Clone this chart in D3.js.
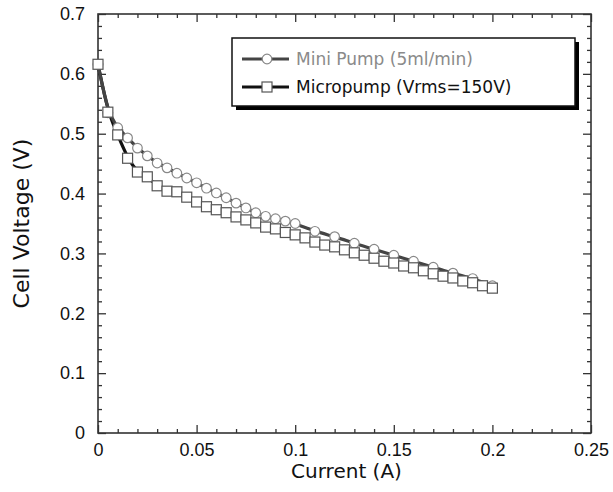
<!DOCTYPE html>
<html>
<head>
<meta charset="utf-8">
<script src="https://cdn.jsdelivr.net/npm/d3@7"></script>
<style>
  html, body { margin: 0; padding: 0; background: #fff; }
  svg { display: block; font-family: "DejaVu Sans", "Liberation Sans", Arial, sans-serif; }
</style>
</head>
<body>
<svg id="chart" width="613" height="492"></svg>
<script>
// ---- data ----
const miniCurrent = [0, 0.005, 0.01, 0.015, 0.02, 0.025, 0.03, 0.035, 0.04, 0.045, 0.05, 0.055, 0.06, 0.065, 0.07, 0.075, 0.08, 0.085, 0.09, 0.095, 0.1, 0.11, 0.12, 0.13, 0.14, 0.15, 0.16, 0.17, 0.18, 0.19, 0.2];
const miniVoltage = [0.616, 0.535, 0.510, 0.493, 0.476, 0.463, 0.451, 0.443, 0.434, 0.426, 0.418, 0.409, 0.401, 0.393, 0.384, 0.376, 0.368, 0.362, 0.358, 0.354, 0.350, 0.337, 0.328, 0.317, 0.307, 0.297, 0.287, 0.277, 0.267, 0.258, 0.246];

const microCurrent = [0, 0.005, 0.01, 0.015, 0.02, 0.025, 0.03, 0.035, 0.04, 0.045, 0.05, 0.055, 0.06, 0.065, 0.07, 0.075, 0.08, 0.085, 0.09, 0.095, 0.1, 0.105, 0.11, 0.115, 0.12, 0.125, 0.13, 0.135, 0.14, 0.145, 0.15, 0.155, 0.16, 0.165, 0.17, 0.175, 0.18, 0.185, 0.19, 0.195, 0.2];
const microVoltage = [0.616, 0.536, 0.498, 0.459, 0.436, 0.428, 0.413, 0.404, 0.403, 0.394, 0.386, 0.378, 0.373, 0.368, 0.361, 0.356, 0.351, 0.344, 0.341, 0.335, 0.331, 0.326, 0.319, 0.314, 0.311, 0.306, 0.301, 0.297, 0.292, 0.287, 0.284, 0.279, 0.276, 0.271, 0.266, 0.262, 0.259, 0.254, 0.251, 0.246, 0.242];

const xTicks = [0, 0.05, 0.1, 0.15, 0.2, 0.25];
const xTickLabels = ["0", "0.05", "0.1", "0.15", "0.2", "0.25"];
const yTicks = [0, 0.1, 0.2, 0.3, 0.4, 0.5, 0.6, 0.7];
const yTickLabels = ["0", "0.1", "0.2", "0.3", "0.4", "0.5", "0.6", "0.7"];
const seriesNames = ["Mini Pump (5ml/min)", "Micropump (Vrms=150V)"];

// ---- layout ----
const L = 98, R = 591, T = 14, B = 433;
const svg = d3.select("#chart");
const x = d3.scaleLinear().domain([0, 0.25]).range([L, R]);
const y = d3.scaleLinear().domain([0, 0.7]).range([B, T]);

const xMinor = d3.range(0, 0.2501, 0.01).map(v => +v.toFixed(3)).filter(v => !xTicks.some(t => Math.abs(t - v) < 1e-9));
const yMinor = d3.range(0, 0.7001, 0.02).map(v => +v.toFixed(3)).filter(v => !yTicks.some(t => Math.abs(t - v) < 1e-9));

const axisColor = "#333";
function styleAxis(g) {
  g.select(".domain").remove();
  g.selectAll(".tick line").attr("stroke", axisColor).attr("stroke-width", 1.3);
  g.selectAll(".tick text").attr("fill", "#111").style("font-size", "18px");
}

// bottom
svg.append("g").attr("transform", `translate(0,${B})`)
  .call(d3.axisBottom(x).tickValues(xTicks).tickFormat((d, i) => xTickLabels[i]).tickSizeInner(-8).tickSizeOuter(0).tickPadding(10))
  .call(styleAxis);
svg.append("g").attr("transform", `translate(0,${B})`)
  .call(d3.axisBottom(x).tickValues(xMinor).tickFormat("").tickSizeInner(-4).tickSizeOuter(0))
  .call(styleAxis);
// top
svg.append("g").attr("transform", `translate(0,${T})`)
  .call(d3.axisTop(x).tickValues(xTicks).tickFormat("").tickSizeInner(-8).tickSizeOuter(0))
  .call(styleAxis);
svg.append("g").attr("transform", `translate(0,${T})`)
  .call(d3.axisTop(x).tickValues(xMinor).tickFormat("").tickSizeInner(-4).tickSizeOuter(0))
  .call(styleAxis);
// left
svg.append("g").attr("transform", `translate(${L},0)`)
  .call(d3.axisLeft(y).tickValues(yTicks).tickFormat((d, i) => yTickLabels[i]).tickSizeInner(-8).tickSizeOuter(0).tickPadding(13))
  .call(styleAxis);
svg.append("g").attr("transform", `translate(${L},0)`)
  .call(d3.axisLeft(y).tickValues(yMinor).tickFormat("").tickSizeInner(-4).tickSizeOuter(0))
  .call(styleAxis);
// right
svg.append("g").attr("transform", `translate(${R},0)`)
  .call(d3.axisRight(y).tickValues(yTicks).tickFormat("").tickSizeInner(-8).tickSizeOuter(0))
  .call(styleAxis);
svg.append("g").attr("transform", `translate(${R},0)`)
  .call(d3.axisRight(y).tickValues(yMinor).tickFormat("").tickSizeInner(-4).tickSizeOuter(0))
  .call(styleAxis);

// frame
svg.append("rect").attr("x", L).attr("y", T).attr("width", R - L).attr("height", B - T)
  .attr("fill", "none").attr("stroke", axisColor).attr("stroke-width", 1.6);

// titles
svg.append("text").attr("x", (L + R) / 2 + 2).attr("y", 478).attr("text-anchor", "middle")
  .style("font-size", "20px").attr("fill", "#111").text("Current (A)");
svg.append("text").attr("transform", `translate(29,${(T + B) / 2}) rotate(-90)`).attr("text-anchor", "middle")
  .style("font-size", "22px").attr("fill", "#111").text("Cell Voltage (V)");

// series
const miniData = miniCurrent.map((c, i) => [c, miniVoltage[i]]);
const microData = microCurrent.map((c, i) => [c, microVoltage[i]]);
const line = d3.line().x(d => x(d[0])).y(d => y(d[1])).curve(d3.curveBasis);

svg.append("path").datum(microData).attr("d", line).attr("fill", "none").attr("stroke", "#111").attr("stroke-width", 3.2);
svg.append("path").datum(miniData).attr("d", line).attr("fill", "none").attr("stroke", "#444").attr("stroke-width", 3.2);

svg.append("g").selectAll("circle").data(miniData).join("circle")
  .attr("cx", d => x(d[0])).attr("cy", d => y(d[1])).attr("r", 4.8)
  .attr("fill", "#fff").attr("stroke", "#888").attr("stroke-width", 1.2);
const sq = 10;
svg.append("g").selectAll("rect").data(microData).join("rect")
  .attr("x", d => x(d[0]) - sq / 2).attr("y", d => y(d[1]) - sq / 2).attr("width", sq).attr("height", sq)
  .attr("fill", "#fff").attr("stroke", "#555").attr("stroke-width", 1.2);

// legend
const lg = svg.append("g");
lg.append("rect").attr("x", 236).attr("y", 42).attr("width", 343).attr("height", 68).attr("fill", "#000");
lg.append("rect").attr("x", 232).attr("y", 38).attr("width", 343).attr("height", 68)
  .attr("fill", "#fff").attr("stroke", "#111").attr("stroke-width", 1.5);
const rows = [
  { y: 59, color: "#444", text: "#8a8a8a", marker: "circle" },
  { y: 87, color: "#111", text: "#111", marker: "square" }
];
rows.forEach((r, i) => {
  lg.append("line").attr("x1", 242).attr("x2", 289).attr("y1", r.y).attr("y2", r.y)
    .attr("stroke", r.color).attr("stroke-width", 3);
  if (r.marker === "circle") {
    lg.append("circle").attr("cx", 267).attr("cy", r.y).attr("r", 4.8)
      .attr("fill", "#fff").attr("stroke", "#888").attr("stroke-width", 1.2);
  } else {
    lg.append("rect").attr("x", 267 - sq / 2).attr("y", r.y - sq / 2).attr("width", sq).attr("height", sq)
      .attr("fill", "#fff").attr("stroke", "#555").attr("stroke-width", 1.2);
  }
  lg.append("text").attr("x", 296).attr("y", r.y).attr("dy", "0.36em")
    .style("font-size", "17px").attr("fill", r.text).text(seriesNames[i]);
});
</script>
</body>
</html>
